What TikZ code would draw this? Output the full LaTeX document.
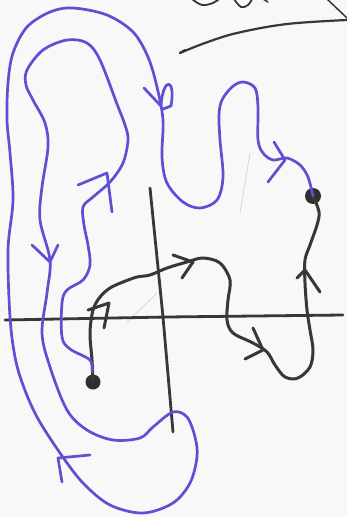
\documentclass[tikz,border=0pt]{standalone}
\definecolor{ink}{RGB}{94,80,210}
\definecolor{pencil}{RGB}{55,55,55}
\definecolor{paper}{RGB}{248,248,248}
\begin{document}
\begin{tikzpicture}[x=1pt,y=-1pt,
  purp/.style={draw=ink,line width=2.7pt,line cap=round,line join=round},
  blk/.style={draw=pencil,line width=3pt,line cap=round,line join=round},
  axis/.style={draw=pencil,line width=2.8pt,line cap=round},
  faint/.style={draw=gray!35,line width=0.7pt},
  dotnode/.style={circle,fill=pencil!85!black,inner sep=0pt,minimum width=#1}]
\fill[paper] (0,0) rectangle (347,517);
\useasboundingbox (0,0) rectangle (347,517);
% top partial strokes
\draw[blk,line width=2.2pt] (180,53) -- (185,50);
\draw[blk,line width=2.2pt] plot[smooth,tension=0.6] coordinates {(180,53) (205,43) (237,33) (287,24) (347,20)};
\draw[blk,line width=1.8pt] plot[smooth,tension=0.6] coordinates {(192,-1) (202,5) (213,3) (219,-1)};
\draw[blk,line width=1.8pt] plot[smooth,tension=0.6] coordinates {(234,-1) (241,7) (248,5) (252,-1)};
\draw[blk,line width=1.5pt] (263,-1) -- (268,2);
\draw[blk,line width=1.5pt] (327,-1) -- (347,18);
% faint marks
\draw[faint] (127,322) -- (157,293);
\draw[faint] (250,153) -- (240,213);
% axes
\coordinate (xl) at (5,320); \coordinate (xr) at (343,315);
\coordinate (yt) at (150,188); \coordinate (yb) at (173,432);
\draw[axis] (xl) -- (167,317) -- (xr);
\draw[axis] (yt) -- (163,317) -- (yb);
% dots
\node[dotnode=15pt] (startdot) at (93,382) {};
\node[dotnode=16pt] (enddot) at (313,196) {};
% black path
\draw[blk] plot[smooth,tension=0.55] coordinates {(startdot.center) (92,360) (90,333) (93,310) (100,297) (110,288) (123,282) (137,277) (150,275) (167,268) (187,262) (203,258) (220,263) (230,280) (228,300) (227,320) (233,333) (253,343) (267,352) (275,365) (285,377) (298,378) (310,367) (313,350) (310,330) (307,310) (305,283) (305,260) (310,245) (317,225) (319,212) (enddot.center)};
% black arrows
\draw[blk] (88,310) -- (109,303) -- (104,328);
\draw[blk] (173,255) -- (193,262) -- (182,278);
\draw[blk] (253,328) -- (263,350) -- (245,359);
\draw[blk] (297,278) -- (305,270) -- (320,292);
% purple path
\draw[purp] plot[smooth,tension=0.55] coordinates {(92,372) (90,360) (70,349) (62,337) (62,303) (67,290) (83,280) (90,265) (88,245) (84,225) (83,207) (93,197) (110,182) (123,163) (128,140) (125,125) (117,104) (100,60) (87,43) (67,40) (43,50) (27,70) (26,85) (33,100) (45,123) (48,147) (42,187) (40,220) (50,260) (47,293) (42,333) (50,367) (67,410) (87,430) (113,440) (140,438) (153,427) (173,412) (187,417) (195,437) (197,457) (190,483) (173,503) (143,513) (110,505) (83,483) (60,453) (37,417) (23,385) (15,357) (10,317) (8,250) (13,200) (10,153) (7,120) (8,83) (13,53) (27,27) (50,12) (73,8) (107,15) (133,32) (148,57) (157,87) (163,120) (162,157) (167,183) (183,202) (200,208) (217,200) (223,177) (220,140) (219,115) (222,100) (232,87) (243,82) (255,88) (258,107) (258,140) (263,153) (273,160) (287,158) (300,165) (308,177) (enddot.center)};
% purple arrows
\draw[purp] (78,185) -- (107,173) -- (112,212);
\draw[purp] (32,245) -- (50,262) -- (58,245);
\draw[purp] (90,455) -- (58,458) -- (62,482);
\draw[purp] (274,142) -- (285,160) -- (268,182);
\draw[purp] (144,88) -- (161,106);
\draw[purp] (161,106) .. controls (163,76) and (176,78) .. (171,106) -- (163,109);
\end{tikzpicture}
\end{document}
